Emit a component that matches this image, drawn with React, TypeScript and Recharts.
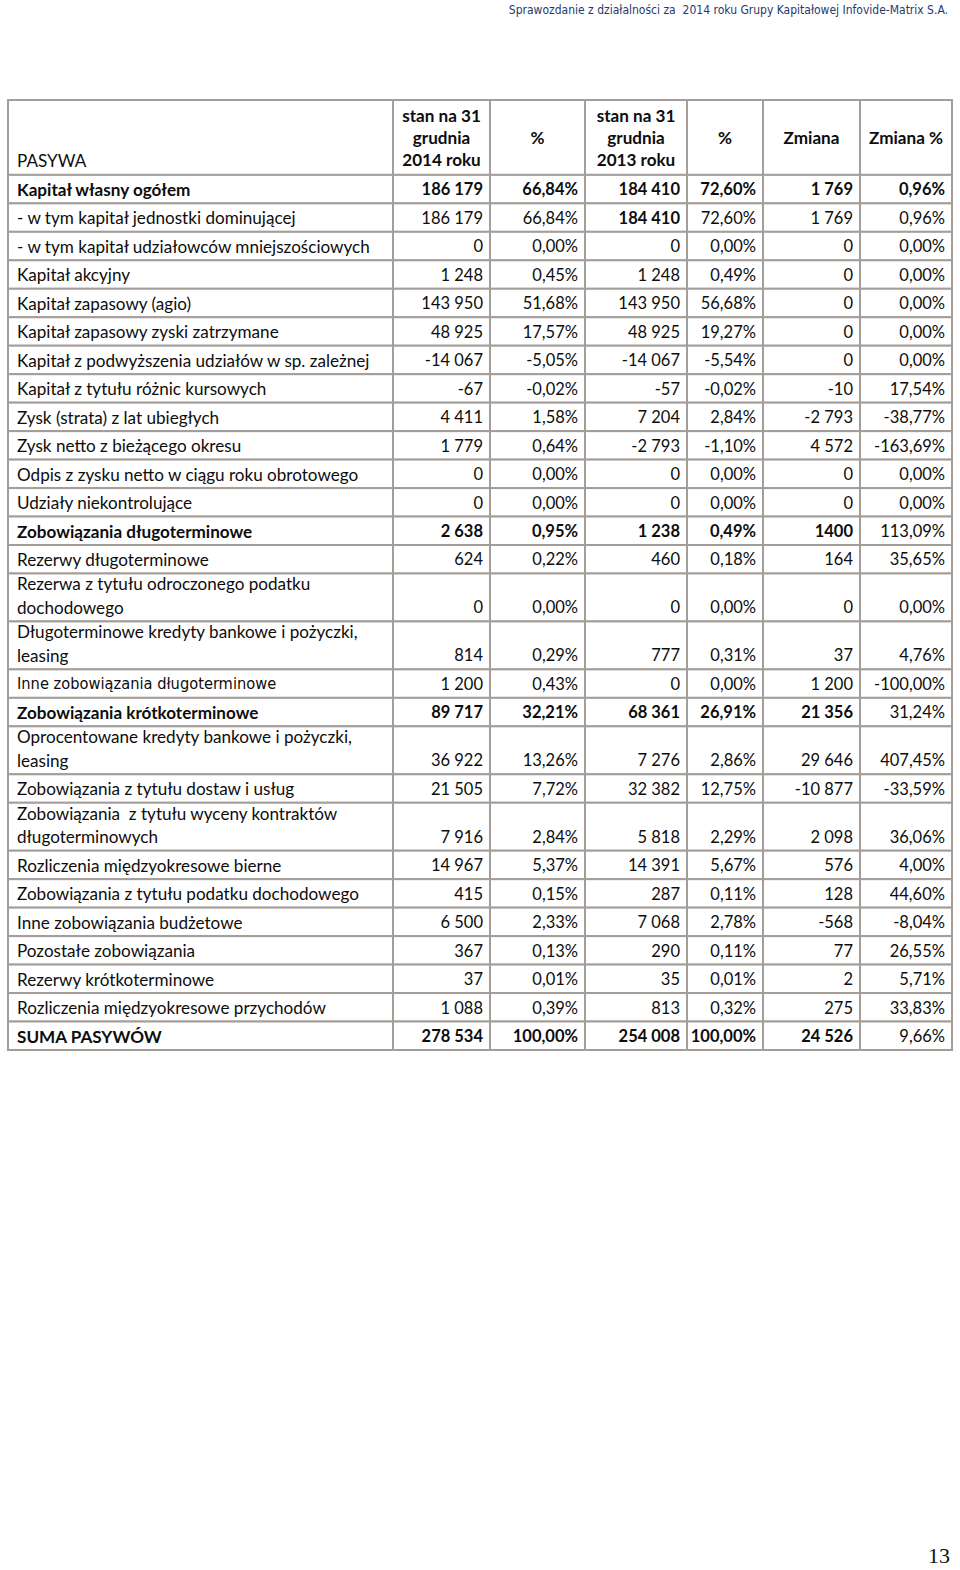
import React from "react";
import { ComposedChart, XAxis, YAxis, ReferenceArea, Scatter } from "recharts";

if (typeof document !== "undefined") document.body.style.margin = "0";

const HEADERS = [
  "PASYWA",
  "stan na 31\ngrudnia\n2014 roku",
  "%",
  "stan na 31\ngrudnia\n2013 roku",
  "%",
  "Zmiana",
  "Zmiana %",
];

const LABELS = [
  "Kapitał własny ogółem",
  "- w tym kapitał jednostki dominującej",
  "- w tym kapitał udziałowców mniejszościowych",
  "Kapitał akcyjny",
  "Kapitał zapasowy (agio)",
  "Kapitał zapasowy zyski zatrzymane",
  "Kapitał z podwyższenia udziałów w sp. zależnej",
  "Kapitał z tytułu różnic kursowych",
  "Zysk (strata) z lat ubiegłych",
  "Zysk netto z bieżącego okresu",
  "Odpis z zysku netto w ciągu roku obrotowego",
  "Udziały niekontrolujące",
  "Zobowiązania długoterminowe",
  "Rezerwy długoterminowe",
  "Rezerwa z tytułu odroczonego podatku\ndochodowego",
  "Długoterminowe kredyty bankowe i pożyczki,\nleasing",
  "Inne zobowiązania długoterminowe",
  "Zobowiązania krótkoterminowe",
  "Oprocentowane kredyty bankowe i pożyczki,\nleasing",
  "Zobowiązania z tytułu dostaw i usług",
  "Zobowiązania  z tytułu wyceny kontraktów\ndługoterminowych",
  "Rozliczenia międzyokresowe bierne",
  "Zobowiązania z tytułu podatku dochodowego",
  "Inne zobowiązania budżetowe",
  "Pozostałe zobowiązania",
  "Rezerwy krótkoterminowe",
  "Rozliczenia międzyokresowe przychodów",
  "SUMA PASYWÓW",
];

const STAN_2014 = ["186 179", "186 179", "0", "1 248", "143 950", "48 925", "-14 067", "-67", "4 411", "1 779", "0", "0", "2 638", "624", "0", "814", "1 200", "89 717", "36 922", "21 505", "7 916", "14 967", "415", "6 500", "367", "37", "1 088", "278 534"];
const PCT_2014 = ["66,84%", "66,84%", "0,00%", "0,45%", "51,68%", "17,57%", "-5,05%", "-0,02%", "1,58%", "0,64%", "0,00%", "0,00%", "0,95%", "0,22%", "0,00%", "0,29%", "0,43%", "32,21%", "13,26%", "7,72%", "2,84%", "5,37%", "0,15%", "2,33%", "0,13%", "0,01%", "0,39%", "100,00%"];
const STAN_2013 = ["184 410", "184 410", "0", "1 248", "143 950", "48 925", "-14 067", "-57", "7 204", "-2 793", "0", "0", "1 238", "460", "0", "777", "0", "68 361", "7 276", "32 382", "5 818", "14 391", "287", "7 068", "290", "35", "813", "254 008"];
const PCT_2013 = ["72,60%", "72,60%", "0,00%", "0,49%", "56,68%", "19,27%", "-5,54%", "-0,02%", "2,84%", "-1,10%", "0,00%", "0,00%", "0,49%", "0,18%", "0,00%", "0,31%", "0,00%", "26,91%", "2,86%", "12,75%", "2,29%", "5,67%", "0,11%", "2,78%", "0,11%", "0,01%", "0,32%", "100,00%"];
const ZMIANA = ["1 769", "1 769", "0", "0", "0", "0", "0", "-10", "-2 793", "4 572", "0", "0", "1400", "164", "0", "37", "1 200", "21 356", "29 646", "-10 877", "2 098", "576", "128", "-568", "77", "2", "275", "24 526"];
const ZMIANA_PCT = ["0,96%", "0,96%", "0,00%", "0,00%", "0,00%", "0,00%", "0,00%", "17,54%", "-38,77%", "-163,69%", "0,00%", "0,00%", "113,09%", "35,65%", "0,00%", "4,76%", "-100,00%", "31,24%", "407,45%", "-33,59%", "36,06%", "4,00%", "44,60%", "-8,04%", "26,55%", "5,71%", "33,83%", "9,66%"];

// which cells are bold (row index -> column indexes)
const BOLD_CELLS: Record<number, number[]> = {
  0: [0, 1, 2, 3, 4, 5, 6],
  1: [3],
  12: [0, 1, 2, 3, 4, 5],
  17: [0, 1, 2, 3, 4, 5],
  27: [0, 1, 2, 3, 4, 5],
};
const TAHOMA_ROWS = [16];

// layout
const COL_WIDTHS = [385, 97, 95, 102, 76, 97, 92];
const HEADER_UNITS = 2.63;
const EXTRA_LINE_UNITS = 0.684;
const BORDER = "#a39e99";
const FONT = "Lato, 'Open Sans', sans-serif";

const colEdges = COL_WIDTHS.reduce<number[]>((acc, w) => [...acc, acc[acc.length - 1] + w], [0]);

type Row = { cells: string[]; top: number; bottom: number; header?: boolean };

const rows: Row[] = [];
let cursor = 0;
rows.push({ cells: HEADERS, top: 0, bottom: HEADER_UNITS, header: true });
cursor = HEADER_UNITS;
LABELS.forEach((label, i) => {
  const lines = label.split("\n").length;
  const h = 1 + (lines - 1) * EXTRA_LINE_UNITS;
  rows.push({
    cells: [label, STAN_2014[i], PCT_2014[i], STAN_2013[i], PCT_2013[i], ZMIANA[i], ZMIANA_PCT[i]],
    top: cursor,
    bottom: cursor + h,
  });
  cursor += h;
});
const TOTAL_UNITS = cursor;

function renderCell(p: any, text: string, rowIdx: number, col: number, header: boolean) {
  const { x, y, width, height } = p;
  const lines = text.split("\n");
  const n = lines.length;
  const bold = header ? col !== 0 : (BOLD_CELLS[rowIdx] || []).includes(col);
  const tahoma = !header && col === 0 && TAHOMA_ROWS.includes(rowIdx);
  let anchor: "start" | "end" | "middle" = "end";
  let tx = x + width - 7;
  if (col === 0) {
    anchor = "start";
    tx = x + 9;
  } else if (header) {
    anchor = "middle";
    tx = x + width / 2;
  }
  const centered = header && col !== 0;
  const size = tahoma ? 16.3 : col === 0 || header ? 17.1 : 16.5;
  return (
    <g>
      <rect x={x} y={y} width={width} height={height} fill="#fff" stroke={BORDER} strokeWidth={2} />
      {lines.map((ln, i) => {
        const cy = centered
          ? y + height / 2 + (i - (n - 1) / 2) * 22
          : y + height - 14 - (n - 1 - i) * 23.5;
        return (
          <text
            key={i}
            x={tx}
            y={cy}
            dominantBaseline="central"
            textAnchor={anchor}
            fontFamily={tahoma ? "'DejaVu Sans Condensed', 'DejaVu Sans', sans-serif" : FONT}
            fontSize={size}
            fontWeight={bold ? 700 : 400}
            fill="#0d0d0d"
            style={{ whiteSpace: "pre" }}
          >
            {ln}
          </text>
        );
      })}
    </g>
  );
}

const markers = rows.map((r) => ({ x: 0, y: r.top }));

export default function App() {
  return (
    <div style={{ position: "relative", width: 960, height: 1570, background: "#fff", overflow: "hidden" }}>
      <div
        style={{
          position: "absolute",
          right: 12,
          top: 3,
          fontFamily: "'DejaVu Sans Condensed', 'DejaVu Sans', sans-serif",
          fontSize: 12,
          color: "#1f3a6e",
          whiteSpace: "pre",
        }}
      >
        Sprawozdanie z działalności za  2014 roku Grupy Kapitałowej Infovide-Matrix S.A.
      </div>
      <ComposedChart width={960} height={1570} margin={{ top: 100, right: 8, bottom: 520, left: 8 }}>
        <XAxis type="number" dataKey="x" domain={[0, colEdges[colEdges.length - 1]]} hide allowDataOverflow />
        <YAxis type="number" dataKey="y" domain={[0, TOTAL_UNITS]} reversed hide allowDataOverflow />
        <Scatter data={markers} isAnimationActive={false} shape={() => <g />} />
        {rows.map((r, ri) =>
          r.cells.map((text, ci) => (
            <ReferenceArea
              key={`${ri}-${ci}`}
              x1={colEdges[ci]}
              x2={colEdges[ci + 1]}
              y1={r.top}
              y2={r.bottom}
              ifOverflow="visible"
              shape={(p: any) => renderCell(p, text, ri - 1, ci, !!r.header)}
            />
          ))
        )}
      </ComposedChart>
      <div
        style={{
          position: "absolute",
          right: 10,
          top: 1543,
          fontFamily: "'Liberation Serif', serif",
          fontSize: 22,
          color: "#111",
        }}
      >
        13
      </div>
    </div>
  );
}
